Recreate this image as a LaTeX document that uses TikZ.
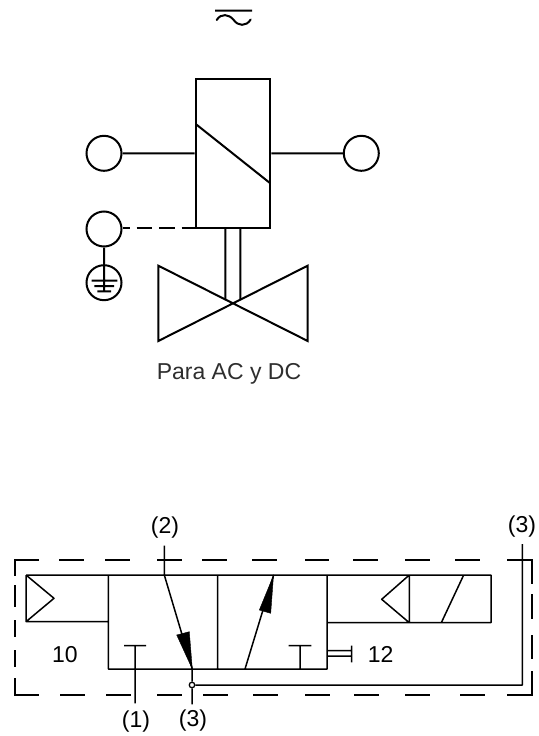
\documentclass[tikz,border=0pt]{standalone}
\usepackage{fontspec}
\setmainfont{Liberation Sans}
\usetikzlibrary{arrows}
\definecolor{gray800}{HTML}{2E2E2E}
\tikzstyle{terminal}=[circle, draw=black, fill=white, line width=2pt, minimum size=35pt, inner sep=0pt]
\tikzstyle{coilbox}=[rectangle, draw=black, line width=2pt, minimum width=74.6pt, minimum height=149.3pt, inner sep=0pt]
\tikzstyle{pipe}=[draw=black, line width=2pt]
\tikzstyle{valve}=[draw=black, line width=1.5pt, line join=round]
\tikzstyle{frame}=[draw=black, line width=1.3pt]
\tikzstyle{tag}=[text=black, font=\fontsize{23}{27}\selectfont, inner sep=0pt]

\begin{document}
\begin{tikzpicture}[x=1pt,y=-1pt]
			\useasboundingbox (0,0) rectangle (538,736);
			% electrical symbol
			\node[coilbox] (coil) at (233,153.6) {};
			\node[terminal] (termL) at (104,153.3) {};
			\node[terminal] (termR) at (361.3,153.3) {};
			\node[terminal] (termE) at (104,229) {};
			\node[terminal] (earth) at (104,282.7) {};
			\node[tag, text=gray800] (note) at (229,374) {Para AC y DC};
			\coordinate (coilA) at (195.7,124);
			\coordinate (coilB) at (270.3,183.3);
			\coordinate (coilC) at (195.7,228.3);
			\coordinate (cross) at (233,302.7);
			\coordinate (earthEnd) at (104,291.3);
			\path[pipe]
				(termL)--(coil.west |- termL)
				(termR)--(coil.east |- termR)
				(coilA)--(coilB)
				(termE)--(earthEnd)
				(225.3,228.3)--(225.3,300)
				(240.3,228.3)--(240.3,300)
				(91.7,280.7)--(117.3,280.7)
				(94.3,286)--(114,286)
				(97.3,291.3)--(111,291.3)
				(215,10.7)--(252,10.7);
			\path[pipe, dash pattern=on 15.5pt off 7pt, dash phase=8.5pt] (termE.east |- coilC)--(coilC);
			\path[pipe, line join=miter]
				(158.3,265.7)--(158.3,341)--(307.7,265.7)--(307.7,341)--cycle;
			\path[pipe, line cap=round] (216.7,20) .. controls (221,13) and (229,14) .. (233.7,20) .. controls (238,26) and (246,27) .. (250.7,19.5);
			% pneumatic symbol
			\node[tag] (p2) at (165,528) {(2)};
			\node[tag] (p3a) at (522,527) {(3)};
			\node[tag] (p1) at (136,722) {(1)};
			\node[tag] (p3b) at (193,721) {(3)};
			\node[tag] (n10) at (65,654.3) {10};
			\node[tag] (n12) at (380.7,654) {12};
			\coordinate (a2) at (164.3,575);
			\coordinate (a3) at (192.3,669);
			\coordinate (b1) at (245,669);
			\coordinate (b2) at (273.5,575.5);
			\node[circle, draw=black, fill=white, line width=1.3pt, minimum size=5.5pt, inner sep=0pt] (joint) at (192,685) {};
			% dashed frame
			\path[frame]
				(39,560)--(15,560)--(15,576)
				(507,560)--(532,560)--(532,584)
				(15,678)--(15,695)--(39,695)
				(507,695)--(532,695)--(532,671);
			\foreach \a/\b in {59/84,105/130,157/182,202/227,252/277,305/329,353/378,405/430,455/480}
				\path[frame] (\a,560)--(\b,560);
			\foreach \a/\b in {60/85,106/131,157/182,203/228,253/278,305/330,354/379,405/430,460/485}
				\path[frame] (\a,695)--(\b,695);
			\foreach \a/\b in {585/607,620/637,650/667}
				\path[frame] (15,\a)--(15,\b);
			\foreach \a/\b in {594/619,635/659}
				\path[frame] (532,\a)--(532,\b);
			\path[valve]
				(26,575)--(491,575)--(491,622.7)--(327,622.7)
				(26,575)--(26,621.7)--(108.3,621.7)
				(108.3,575)--(108.3,669)--(327,669)--(327,575)
				(217.7,575)--(217.7,669)
				(26,575)--(54,598.3)--(26,621.7)
				(409.3,575)--(409.3,622.7)--(381.7,599.3)--(409.3,575)
				(463.7,575)--(441.3,622.7)
				(124,645.7)--(146,645.7)
				(135,645.7)--(135,703.3)
				(288.7,645.7)--(311.3,645.7)
				(300,645.7)--(300,669)
				(327,650.7)--(351.5,650.7)
				(327,656)--(351.5,656)
				(351.5,645.7)--(351.5,662.3)
				(164.3,545.7)--(a2)--(a3)
				(b1)--(b2)
				(192,669)--(joint)--(192,704.3)
				(joint)--(522.3,685)--(522.3,544);
			\path[draw=black, fill=black] (a3)--(176.7,635)--(189.3,631.7)--cycle;
			\path[draw=black, fill=black] (b2)--(259.3,610)--(270.7,613.3)--cycle;
		\end{tikzpicture}
\end{document}
